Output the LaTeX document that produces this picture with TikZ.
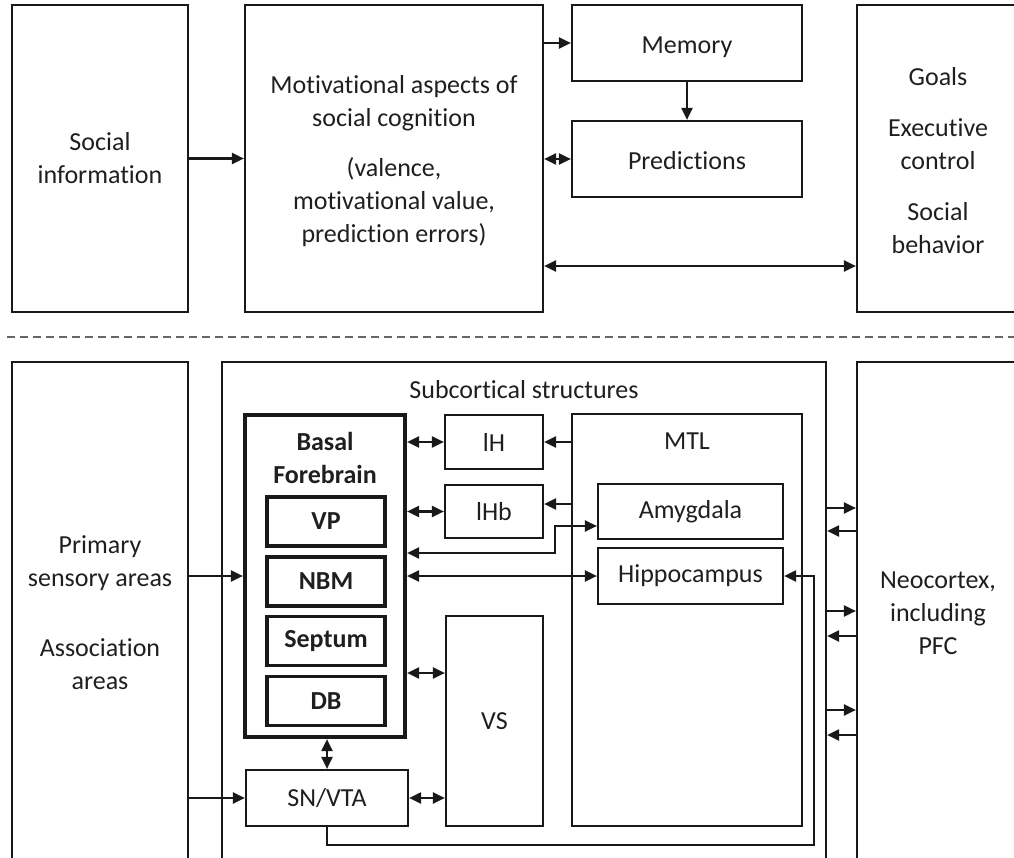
\documentclass[tikz,border=0pt]{standalone}
\usepackage{fontspec}
\setmainfont{Carlito}[Ligatures=NoCommon]
\usetikzlibrary{arrows.meta}

\begin{document}
\begin{tikzpicture}[x=1pt,y=-1pt,
  every node/.style={font=\fontsize{26}{33}\selectfont, text=black!88},
  box/.style={draw=black!90, line width=2.2pt, inner sep=0pt, align=center},
  oneline/.style={text height=21pt, text depth=0pt},
  thickbox/.style={draw=black!90, line width=4.2pt, inner sep=0pt},
  subbox/.style={draw=black!90, line width=3.4pt, inner sep=0pt, font=\fontsize{26}{33}\selectfont\bfseries},
  lbl/.style={inner sep=0pt, align=center},
  conn/.style={draw=black!90, line width=2.1pt},
  tip/.tip={Triangle[length=12pt,width=11pt]},
  arr/.style={conn, -tip},
  darr/.style={conn, tip-tip},
  sep/.style={draw=black!60, line width=1.6pt, dash pattern=on 8pt off 5pt}
]
\clip (0,0) rectangle (1014,858);

% ---------- upper level: functions ----------
\node[box, minimum width=176pt, minimum height=307pt] (social) at (100,158.5)
  {Social\\information};
\node[box, text depth=0pt, minimum width=298pt, minimum height=307pt] (motiv) at (394,158.5)
  {Motivational aspects of\\social cognition\\[17pt](valence,\\motivational value,\\prediction errors)};
\node[box, oneline, minimum width=230pt, minimum height=76pt] (memory) at (687,43) {Memory};
\node[box, oneline, minimum width=230pt, minimum height=76pt] (pred) at (687,159) {Predictions};
\node[box, minimum width=162pt, minimum height=307pt] (goals) at (938,158.5) {};
\node[lbl] (goalstext) at (938,161)
  {Goals\\[18pt]Executive\\control\\[18pt]Social\\behavior};

\draw[arr] (social.east) -- (motiv.west);
\draw[arr] (memory.west -| motiv.east) -- (memory.west);
\draw[darr] (pred.west -| motiv.east) -- (pred.west);
\draw[arr] (memory.south) -- (memory.south |- pred.north);
\draw[darr] (motiv.east |- 0,266) -- (goals.west |- 0,266);

% ---------- separator ----------
\draw[sep] (7,337) -- (1014,337);

% ---------- lower level: brain structures ----------
\node[box, minimum width=176pt, minimum height=502pt] (primary) at (100,613)
  {Primary\\sensory areas\\[37pt]Association\\areas};
\node[box, minimum width=604pt, minimum height=502pt] (sub) at (524,613) {};
\node[lbl] (subtitle) at (524,390) {Subcortical structures};
\node[box, minimum width=162pt, minimum height=502pt] (neo) at (938,613)
  {Neocortex,\\including\\PFC};

% basal forebrain and its nuclei
\node[thickbox, minimum width=160pt, minimum height=322pt] (bf) at (325,576) {};
\node[lbl, font=\fontsize{26}{33}\selectfont\bfseries] (bftitle) at (325,458) {Basal\\Forebrain};
\node[subbox, minimum width=118pt, minimum height=49pt] (vp) at (326,521.5) {VP};
\node[subbox, minimum width=118pt, minimum height=49pt] (nbm) at (326,581.5) {NBM};
\node[subbox, minimum width=118pt, minimum height=49pt] (septum) at (326,641) {Septum};
\node[subbox, minimum width=118pt, minimum height=49pt] (db) at (326,701) {DB};

\node[box, minimum width=98pt, minimum height=54pt] (ih) at (494,442) {lH};
\node[box, minimum width=98pt, minimum height=53pt] (ihb) at (494,511.5) {lHb};
\node[box, minimum width=97pt, minimum height=210pt] (vs) at (494.5,721) {VS};
\node[box, minimum width=162pt, minimum height=56pt] (snvta) at (327,798) {SN/VTA};

% medial temporal lobe
\node[box, minimum width=230pt, minimum height=412pt] (mtl) at (687,620) {};
\node[lbl] (mtltitle) at (687,441) {MTL};
\node[box, minimum width=185pt, minimum height=55pt] (amyg) at (690.5,511.5) {Amygdala};
\node[box, minimum width=185pt, minimum height=56pt] (hip) at (690.5,576) {Hippocampus};

% inputs from the sensory and association areas
\draw[arr] (primary.east |- bf.west) -- (bf.west);
\draw[arr] (snvta.west -| primary.east) -- (snvta.west);

% links around the basal forebrain
\draw[darr] (bf.east |- ih.west) -- (ih.west);
\draw[arr] (mtl.west |- ih.east) -- (ih.east);
\draw[darr] (bf.east |- ihb.west) -- (ihb.west);
\draw[arr] (mtl.west |- 0,504) -- (ihb.east |- 0,504);
\draw[darr] (bf.east |- 0,553) -- (555,553) -- (555,526) -- (amyg.west |- 0,526);
\draw[darr] (bf.east |- hip.west) -- (hip.west);
\draw[darr] (bf.east |- 0,673) -- (vs.west |- 0,673);
\draw[darr] (snvta.north) -- (snvta.north |- bf.south);
\draw[darr] (snvta.east) -- (snvta.east -| vs.west);
\draw[arr] (snvta.south) -- (snvta.south |- 0,845) -- (814,845) -- (814,576) -- (hip.east);

% exchanges with the neocortex
\foreach \y in {508,611,710}
  \draw[arr] (sub.east |- 0,\y) -- (neo.west |- 0,\y);
\foreach \y in {531,636,735}
  \draw[arr] (neo.west |- 0,\y) -- (sub.east |- 0,\y);
\end{tikzpicture}
\end{document}
